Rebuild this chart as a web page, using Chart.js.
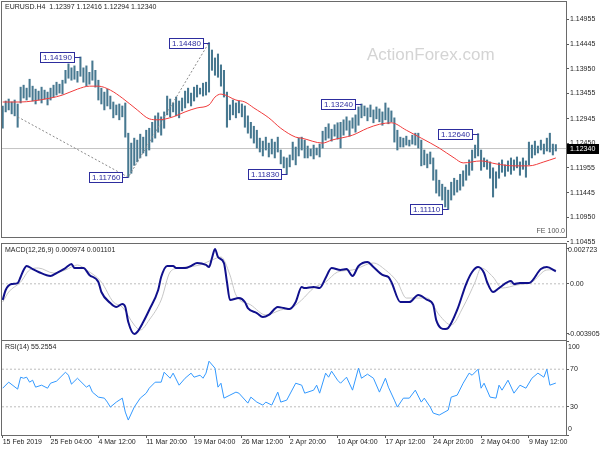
<!DOCTYPE html>
<html>
<head>
<meta charset="utf-8">
<script src="https://cdn.jsdelivr.net/npm/chart.js@4.4.1/dist/chart.umd.min.js"></script>
<style>
  body { margin: 0; background: #fff; }
  #wrap { position: relative; width: 600px; height: 450px; overflow: hidden; }
  canvas { position: absolute; left: 0; }
</style>
</head>
<body>
<div id="wrap">
  <canvas id="price" width="600" height="250" style="top:0"></canvas>
  <canvas id="macd" width="600" height="104" style="top:240px"></canvas>
  <canvas id="rsi" width="600" height="114" style="top:336px"></canvas>
</div>
<script>
// bar index axis (one bar = 8 hours here), labels every 16 bars
const xTickIdx = [0, 16, 32, 48, 64, 80, 96, 112, 128, 144, 160, 176];
const xTickLabels = ['15 Feb 2019', '25 Feb 04:00', '4 Mar 12:00', '11 Mar 20:00', '19 Mar 04:00', '26 Mar 12:00',
    '2 Apr 20:00', '10 Apr 04:00', '17 Apr 12:00', '24 Apr 20:00', '2 May 04:00', '9 May 12:00'];
const X_MIN = -0.234, X_MAX = 188.4;

const priceTicks = [1.14955, 1.14445, 1.13950, 1.13455, 1.12945, 1.12450, 1.11955, 1.11445, 1.10950, 1.10455];
const lastBar = [1.12397, 1.12416, 1.12294, 1.12340]; // open high low close

const highs = [1.1320, 1.1330, 1.1334, 1.1328, 1.1332, 1.1324, 1.1358, 1.1362, 1.1356, 1.1374,
    1.1360, 1.1354, 1.1350, 1.1358, 1.1352, 1.1348, 1.1356, 1.1362, 1.1368, 1.1364,
    1.1372, 1.1392, 1.1405, 1.1397, 1.1401, 1.1390, 1.1419, 1.1397, 1.1401, 1.1388,
    1.1411, 1.1392, 1.1372, 1.1356, 1.1348, 1.1354, 1.1340, 1.1328, 1.1322, 1.1324,
    1.1320, 1.1326, 1.1265, 1.1245, 1.1255, 1.1251, 1.1263, 1.1257, 1.1271, 1.1275,
    1.1287, 1.1300, 1.1306, 1.1298, 1.1308, 1.1340, 1.1334, 1.1326, 1.1338, 1.1330,
    1.1336, 1.1350, 1.1356, 1.1346, 1.1358, 1.1362, 1.1356, 1.1366, 1.1368, 1.1448,
    1.1433, 1.1417, 1.1425, 1.1403, 1.1392, 1.1348, 1.1322, 1.1332, 1.1326, 1.1330,
    1.1324, 1.1320, 1.1300, 1.1287, 1.1279, 1.1271, 1.1255, 1.1249, 1.1257, 1.1245,
    1.1253, 1.1247, 1.1257, 1.1231, 1.1217, 1.1215, 1.1221, 1.1247, 1.1237, 1.1255,
    1.1257, 1.1251, 1.1239, 1.1233, 1.1241, 1.1235, 1.1243, 1.1269, 1.1277, 1.1284,
    1.1273, 1.1282, 1.1286, 1.1287, 1.1292, 1.1298, 1.1290, 1.1296, 1.1302, 1.1318,
    1.1324, 1.1320, 1.1316, 1.1322, 1.1312, 1.1318, 1.1314, 1.1308, 1.1326, 1.1316,
    1.1310, 1.1296, 1.1271, 1.1257, 1.1255, 1.1259, 1.1251, 1.1261, 1.1265, 1.1265,
    1.1251, 1.1231, 1.1223, 1.1227, 1.1215, 1.1191, 1.1170, 1.1162, 1.1156, 1.1150,
    1.1166, 1.1174, 1.1170, 1.1182, 1.1189, 1.1201, 1.1211, 1.1231, 1.1241, 1.1264,
    1.1231, 1.1215, 1.1211, 1.1207, 1.1195, 1.1187, 1.1205, 1.1211, 1.1201, 1.1209,
    1.1215, 1.1211, 1.1217, 1.1207, 1.1215, 1.1209, 1.1247, 1.1241, 1.1249, 1.1239,
    1.1251, 1.1243, 1.1255, 1.1265, 1.1243, 1.1242];
const lows = [1.1275, 1.1308, 1.1312, 1.1304, 1.1300, 1.1277, 1.1326, 1.1336, 1.1332, 1.1338,
    1.1330, 1.1324, 1.1332, 1.1326, 1.1334, 1.1322, 1.1332, 1.1338, 1.1342, 1.1346,
    1.1344, 1.1366, 1.1376, 1.1372, 1.1374, 1.1368, 1.1380, 1.1368, 1.1360, 1.1364,
    1.1372, 1.1358, 1.1332, 1.1324, 1.1312, 1.1320, 1.1314, 1.1296, 1.1302, 1.1292,
    1.1298, 1.1257, 1.1176, 1.1184, 1.1200, 1.1207, 1.1215, 1.1225, 1.1219, 1.1231,
    1.1247, 1.1255, 1.1267, 1.1261, 1.1275, 1.1302, 1.1298, 1.1308, 1.1300, 1.1296,
    1.1310, 1.1316, 1.1326, 1.1320, 1.1330, 1.1338, 1.1344, 1.1340, 1.1342, 1.1348,
    1.1392, 1.1382, 1.1378, 1.1360, 1.1338, 1.1277, 1.1292, 1.1302, 1.1296, 1.1306,
    1.1298, 1.1277, 1.1265, 1.1255, 1.1245, 1.1235, 1.1227, 1.1219, 1.1231, 1.1217,
    1.1223, 1.1215, 1.1227, 1.1203, 1.1195, 1.1183, 1.1197, 1.1211, 1.1201, 1.1219,
    1.1231, 1.1215, 1.1215, 1.1219, 1.1213, 1.1221, 1.1217, 1.1235, 1.1251, 1.1255,
    1.1249, 1.1259, 1.1253, 1.1235, 1.1261, 1.1271, 1.1259, 1.1275, 1.1267, 1.1281,
    1.1296, 1.1300, 1.1290, 1.1298, 1.1286, 1.1294, 1.1288, 1.1281, 1.1292, 1.1284,
    1.1288, 1.1247, 1.1231, 1.1237, 1.1237, 1.1241, 1.1239, 1.1243, 1.1241, 1.1235,
    1.1199, 1.1201, 1.1195, 1.1203, 1.1170, 1.1144, 1.1138, 1.1130, 1.1116, 1.1111,
    1.1130, 1.1140, 1.1146, 1.1150, 1.1158, 1.1170, 1.1180, 1.1190, 1.1215, 1.1219,
    1.1190, 1.1197, 1.1192, 1.1174, 1.1136, 1.1154, 1.1174, 1.1186, 1.1178, 1.1188,
    1.1182, 1.1190, 1.1195, 1.1180, 1.1192, 1.1176, 1.1201, 1.1215, 1.1221, 1.1225,
    1.1231, 1.1223, 1.1229, 1.1227, 1.1221, 1.1229];

// red moving average
const maIdx = [0, 6, 10, 16, 20, 25, 29, 32, 36, 40, 45, 49, 52, 57, 61, 65, 69, 71, 73, 78, 81, 84,
    89, 93, 98, 100, 107, 110, 117, 122, 126, 130, 135, 140, 146, 151, 154, 160, 165, 171, 176, 181, 185];
const maVal = [1.1328, 1.1328, 1.1330, 1.1336, 1.1342, 1.1354, 1.1360, 1.1360, 1.1352, 1.1336, 1.1312,
    1.1294, 1.1292, 1.1298, 1.1308, 1.1316, 1.1322, 1.1338, 1.1344, 1.1332, 1.1328, 1.1316, 1.1296,
    1.1275, 1.1257, 1.1255, 1.1245, 1.1251, 1.1261, 1.1275, 1.1283, 1.1286, 1.1271, 1.1255, 1.1235,
    1.1215, 1.1205, 1.1209, 1.1203, 1.1199, 1.1199, 1.1207, 1.1215];

// fibo expansion legs and swing labels
const feIdx = [5, 42, 69];
const feVal = [1.1298, 1.1176, 1.1448];
const swingIdx = [26, 69, 42, 95, 120, 159, 149];
const swingVal = [1.1419, 1.1448, 1.1176, 1.1183, 1.1324, 1.1264, 1.1111];

const macdIdx = [0, 1, 3, 5, 6, 7, 8, 10, 12, 16, 18, 21, 23, 24, 27, 29, 32, 33, 36, 38, 40, 41, 42, 44, 45,
    47, 49, 52, 53, 55, 57, 58, 61, 63, 65, 68, 69, 70, 71, 72, 74, 75, 76, 79, 81, 82, 85, 87, 89, 92, 94,
    96, 98, 100, 101, 104, 106, 108, 110, 113, 115, 117, 119, 122, 124, 127, 129, 130, 133, 136, 139, 142,
    144, 145, 148, 149, 152, 155, 157, 159, 161, 162, 164, 166, 170, 171, 173, 176, 180, 182, 185];
const macdVal = [-0.00126, -0.00048, -0.00002, 0.00006, 0.00053, 0.00108, 0.00139, 0.00115, 0.00092, 0.00061,
    0.00084, 0.00123, 0.00154, 0.00123, 0.00123, 0.00069, 0.00014, -0.00064, -0.00150, -0.00181,
    -0.00158, -0.00181, -0.00298, -0.003905, -0.00376, -0.00298, -0.00204, -0.00048, 0.00053, 0.00139,
    0.00139, 0.00123, 0.00123, 0.00139, 0.00162, 0.00147, 0.00131, 0.00201, 0.002723, 0.00209,
    0.00162, 0.00014, -0.00126, -0.00111, -0.00142, -0.00189, -0.00228, -0.00259, -0.00243, -0.00181,
    -0.00189, -0.00197, -0.00142, -0.00025, -0.00033, -0.00025, -0.00033, 0.00045, 0.00123, 0.00108,
    0.00115, 0.00061, 0.00139, 0.00170, 0.00131, 0.00069, 0.00053, 0.00014, -0.00142, -0.00142,
    -0.00087, -0.00126, -0.00165, -0.00283, -0.00353, -0.00345, -0.00204, -0.00002, 0.00092, 0.00131,
    0.00084, 0.00014, -0.00064, -0.00033, 0.00022, -0.00002, 0.00006, 0.00006, 0.00115, 0.00131, 0.000974];
const sigIdx = [0, 2, 6, 9, 12, 17, 21, 25, 28, 33, 37, 40, 44, 46, 49, 53, 56, 59, 66, 70, 73, 76, 78, 83,
    88, 93, 97, 100, 104, 108, 112, 117, 124, 128, 132, 135, 142, 146, 150, 154, 158, 160, 164, 167, 172,
    177, 182, 185];
const sigVal = [-0.00142, -0.00064, 0.00014, 0.00108, 0.00123, 0.00084, 0.00108, 0.00147, 0.00108, 0.00014,
    -0.00142, -0.00181, -0.00321, -0.00360, -0.00282, -0.00126, 0.00092, 0.00123, 0.00147, 0.00186,
    0.00209, 0.00069, -0.00087, -0.00165, -0.00243, -0.00204, -0.00181, -0.00126, -0.00033, 0.00014,
    0.00092, 0.00108, 0.00162, 0.00108, 0.00014, -0.00111, -0.00111, -0.00243, -0.00321, -0.00181,
    0.00014, 0.00123, 0.00053, -0.00033, -0.00009, 0.00014, 0.00108, 0.001101];
const macdTicks = [0.002723, 0, -0.003905];

const rsiIdx = [0, 2, 5, 6, 7, 8, 9, 10, 11, 13, 15, 16, 18, 21, 22, 23, 25, 28, 29, 30, 32, 34, 35, 36, 38,
    40, 41, 42, 44, 46, 48, 49, 51, 53, 54, 56, 57, 59, 61, 63, 64, 66, 67, 68, 69, 71, 72, 73, 74, 76, 78,
    79, 82, 83, 85, 87, 88, 90, 92, 93, 95, 98, 100, 101, 104, 105, 106, 108, 109, 110, 112, 113, 115,
    117, 119, 120, 122, 124, 126, 128, 129, 131, 132, 134, 136, 138, 140, 141, 143, 144, 146, 149, 150,
    152, 154, 156, 157, 159, 160, 161, 163, 165, 166, 167, 169, 171, 173, 175, 177, 179, 181, 182, 183, 185];
const rsiVal = [49.8, 56.2, 48.8, 61.5, 60.4, 61.5, 56.2, 58.3, 50.9, 53.0, 49.8, 55.1, 57.3, 66.8, 63.6,
    54.1, 60.4, 50.9, 53.0, 45.6, 40.3, 39.2, 35.0, 29.7, 35.0, 39.2, 24.4, 15.9, 29.7, 39.2, 44.5, 49.8,
    56.2, 56.2, 66.8, 60.4, 65.8, 53.0, 60.4, 65.8, 61.5, 63.6, 60.4, 65.8, 78.5, 71.1, 50.9, 55.1, 39.2,
    42.4, 45.6, 44.5, 33.9, 40.3, 35.0, 31.8, 35.0, 31.8, 45.6, 35.0, 37.1, 55.1, 53.0, 44.5, 47.7, 53.0,
    44.5, 65.8, 61.5, 67.9, 58.3, 55.1, 61.5, 47.7, 71.1, 60.4, 64.7, 60.4, 45.6, 60.4, 50.9, 37.1, 29.7,
    39.2, 39.2, 47.7, 35.0, 39.2, 29.7, 23.3, 21.2, 26.5, 40.3, 42.4, 55.1, 65.8, 63.6, 70.0, 49.8, 55.1,
    40.3, 39.2, 53.0, 47.7, 58.3, 44.5, 53.0, 49.8, 60.4, 65.8, 61.5, 70.0, 53.0, 55.2554];
const rsiTicks = [100, 70, 30, 0];

Chart.defaults.font.family = "'Liberation Sans', Arial, sans-serif";
Chart.defaults.font.size = 7;
Chart.defaults.color = '#1e1e1e';
Chart.defaults.animation = false;

const FONT = "'Liberation Sans', Arial, sans-serif";
const AXIS = '#5a5a5a';

function pts(xs, ys) {
    return xs.map(function (x, k) { return { x: x, y: ys[k] }; });
}

function level(v) {
    return [{ x: X_MIN, y: v }, { x: X_MAX, y: v }];
}

function hiddenX() {
    return { type: 'linear', min: X_MIN, max: X_MAX, offset: false, display: false };
}

// labels of ticks sitting on the panel edges are left empty here and drawn inside the panel later
function rightAxis(min, max, ticks, fmt, edgeLabels) {
    return {
        position: 'right', min: min, max: max,
        afterFit: function (s) { s.width = 34; s.paddingTop = 0; s.paddingBottom = 0; },
        afterBuildTicks: function (s) { s.ticks = ticks.map(function (v) { return { value: v }; }); },
        grid: { drawOnChartArea: false, tickLength: 3, color: AXIS },
        border: { display: true, color: AXIS },
        ticks: {
            padding: 1, autoSkip: false, color: '#1e1e1e',
            callback: function (v) { return edgeLabels && edgeLabels.indexOf(v) >= 0 ? '' : fmt(v); }
        }
    };
}

function edgeText(chart, values, fmt) {
    const c = chart.ctx, ys = chart.scales.y, a = chart.chartArea;
    c.save();
    c.font = '7px ' + FONT;
    c.fillStyle = '#1e1e1e';
    c.textBaseline = 'middle';
    values.forEach(function (v) {
        const py = Math.min(Math.max(ys.getPixelForValue(v), a.top + 6), a.bottom - 6);
        c.fillText(fmt(v), a.right + 2, py);
    });
    c.restore();
}

function frame(chart) {
    const c = chart.ctx, a = chart.chartArea;
    c.save();
    c.strokeStyle = '#6a6a6a';
    c.lineWidth = 1;
    c.strokeRect(a.left - 0.5, a.top - 0.5, a.right - a.left + 1, a.bottom - a.top + 1);
    c.restore();
}

function title(chart, text, y) {
    const c = chart.ctx;
    c.save();
    c.font = '7px ' + FONT;
    c.fillStyle = '#1e1e1e';
    c.textBaseline = 'middle';
    c.fillText(text, 5, y);
    c.restore();
}

const priceDecor = {
    id: 'priceDecor',
    beforeDatasetsDraw: function (chart) {
        const c = chart.ctx;
        c.save();
        c.font = '17px ' + FONT;
        c.fillStyle = '#d4d4d4';
        c.textBaseline = 'middle';
        c.fillText('ActionForex.com', 367, 55);
        c.restore();
    },
    afterDraw: function (chart) {
        const c = chart.ctx, xs = chart.scales.x, ys = chart.scales.y;
        frame(chart);
        title(chart, 'EURUSD.H4  ' + lastBar.map(function (v) { return v.toFixed(5); }).join(' '), 7);

        c.save();
        // swing high / low boxes
        c.font = '8px ' + FONT;
        c.textBaseline = 'middle';
        swingIdx.forEach(function (idx, k) {
            const txt = swingVal[k].toFixed(5);
            const px = Math.round(xs.getPixelForValue(idx));
            const py = Math.round(ys.getPixelForValue(swingVal[k]));
            const w = Math.round(c.measureText(txt).width) + 5;
            const bx = px - 6 - w;
            c.fillStyle = '#fff';
            c.fillRect(bx, py - 5, w, 10);
            c.strokeStyle = '#2d2d9e';
            c.lineWidth = 1;
            c.strokeRect(bx + 0.5, py - 4.5, w, 10);
            c.beginPath();
            c.moveTo(bx + w + 0.5, py + 0.5);
            c.lineTo(px + 0.5, py + 0.5);
            c.stroke();
            c.fillStyle = '#2d2d9e';
            c.fillText(txt, bx + 3, py + 0.5);
        });

        // FE level text
        c.font = '7px ' + FONT;
        c.fillStyle = '#555';
        c.textAlign = 'right';
        c.fillText('FE 100.0', 565, 231);

        // last price box on the axis
        const ly = Math.round(ys.getPixelForValue(lastBar[3]));
        c.fillStyle = '#000';
        c.fillRect(567, ly - 5, 32, 10);
        c.fillStyle = '#fff';
        c.textAlign = 'left';
        c.fillText(lastBar[3].toFixed(5), 570, ly + 0.5);
        c.restore();
    }
};

new Chart(document.getElementById('price'), {
    type: 'bar',
    data: {
        datasets: [
            { type: 'line', data: level(lastBar[3]), borderColor: '#c4c4c4', borderWidth: 1, pointRadius: 0, order: 5 },
            { type: 'bar', data: highs.map(function (h, k) { return { x: k, y: [lows[k], h] }; }),
              backgroundColor: '#477890', barThickness: 1.4, borderWidth: 0, order: 4 },
            { type: 'line', data: pts(feIdx, feVal), borderColor: '#8a8a8a', borderWidth: 1, borderDash: [2, 2],
              pointRadius: 0, order: 2 },
            { type: 'line', data: pts(maIdx, maVal), borderColor: '#f03c3c', borderWidth: 1, pointRadius: 0,
              cubicInterpolationMode: 'monotone', order: 1 }
        ]
    },
    options: {
        responsive: false,
        devicePixelRatio: 1,
        layout: { padding: { left: 2, top: 2, right: 0, bottom: 13 } },
        plugins: { legend: { display: false }, tooltip: { enabled: false } },
        scales: {
            x: hiddenX(),
            y: rightAxis(1.10553, 1.15300, priceTicks, function (v) { return v.toFixed(5); })
        }
    },
    plugins: [priceDecor]
});

const macdFmt = function (v) { return v === 0 ? '0.00' : v.toFixed(6); };
new Chart(document.getElementById('macd'), {
    type: 'line',
    data: {
        datasets: [
            { data: level(0), borderColor: '#bdbdbd', borderWidth: 1, borderDash: [2, 2], pointRadius: 0, order: 3 },
            { data: pts(sigIdx, sigVal), borderColor: '#c6c6c6', borderWidth: 1, pointRadius: 0,
              cubicInterpolationMode: 'monotone', order: 2 },
            { data: pts(macdIdx, macdVal), borderColor: '#10108c', borderWidth: 2, pointRadius: 0,
              cubicInterpolationMode: 'monotone', order: 1 }
        ]
    },
    options: {
        responsive: false,
        devicePixelRatio: 1,
        layout: { padding: { left: 2, top: 4, right: 0, bottom: 4 } },
        plugins: { legend: { display: false }, tooltip: { enabled: false } },
        scales: {
            x: hiddenX(),
            y: rightAxis(-0.004382, 0.003104, macdTicks, macdFmt, [0.002723, -0.003905])
        }
    },
    plugins: [{
        id: 'macdDecor',
        afterDraw: function (chart) {
            frame(chart);
            edgeText(chart, [0.002723, -0.003905], macdFmt);
            title(chart, 'MACD(12,26,9) ' + macdVal[macdVal.length - 1].toFixed(6) + ' ' + sigVal[sigVal.length - 1].toFixed(6), 10);
        }
    }]
});

const rsiFmt = function (v) { return String(v); };
new Chart(document.getElementById('rsi'), {
    type: 'line',
    data: {
        datasets: [
            { data: level(70), borderColor: '#bdbdbd', borderWidth: 1, borderDash: [2, 2], pointRadius: 0, order: 3 },
            { data: level(30), borderColor: '#bdbdbd', borderWidth: 1, borderDash: [2, 2], pointRadius: 0, order: 3 },
            { data: pts(rsiIdx, rsiVal), borderColor: '#3399ff', borderWidth: 1, pointRadius: 0, order: 1 }
        ]
    },
    options: {
        responsive: false,
        devicePixelRatio: 1,
        layout: { padding: { left: 2, top: 5, right: 0, bottom: 0 } },
        plugins: { legend: { display: false }, tooltip: { enabled: false } },
        scales: {
            x: {
                type: 'linear', min: X_MIN, max: X_MAX, offset: false,
                afterFit: function (s) { s.height = 15; s.paddingLeft = 0; s.paddingRight = 0; },
                afterBuildTicks: function (s) { s.ticks = xTickIdx.map(function (v) { return { value: v }; }); },
                grid: { drawOnChartArea: false, tickLength: 3, color: AXIS },
                border: { display: true, color: AXIS },
                ticks: { autoSkip: false, maxRotation: 0, minRotation: 0, align: 'start', padding: 0, color: '#1e1e1e',
                         callback: function (v) { return xTickLabels[xTickIdx.indexOf(v)]; } }
            },
            y: rightAxis(0, 100, rsiTicks, rsiFmt, [100, 0])
        }
    },
    plugins: [{
        id: 'rsiDecor',
        afterDraw: function (chart) {
            frame(chart);
            edgeText(chart, [100, 0], rsiFmt);
            title(chart, 'RSI(14) ' + rsiVal[rsiVal.length - 1].toFixed(4), 11);
        }
    }]
});
</script>
</body>
</html>
